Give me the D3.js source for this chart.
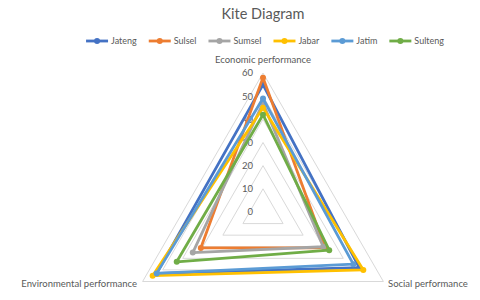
<!DOCTYPE html>
<html>
  <head>
    <script src="https://cdnjs.cloudflare.com/ajax/libs/d3/7.8.5/d3.min.js"></script>
    <style>
      body { margin: 0; background: #fff; font-family: "Lato", "Open Sans", sans-serif; }
    </style>
    <title>Kite Diagram</title>
  </head>
  <body>
    <svg id="chart" width="480" height="300"></svg>
    <script>
      // data
      var axesNames = ["Economic performance", "Social performance", "Environmental performance"];
      var seriesNames = ["Jateng", "Sulsel", "Sumsel", "Jabar", "Jatim", "Sulteng"];
      var colors = ["#4472c4", "#ed7d31", "#a5a5a5", "#ffc000", "#5b9bd5", "#70ad47"];
      var jateng = [55, 48, 53];
      var sulsel = [58, 31, 31];
      var sumsel = [47, 30, 35];
      var jabar = [45, 50, 55];
      var jatim = [49, 45, 53];
      var sulteng = [42, 33, 43];
      var ticks = [0, 10, 20, 30, 40, 50, 60];

      var values = [jateng, sulsel, sumsel, jabar, jatim, sulteng];

      var svg = d3.select("#chart");
      var cx = 263, cy = 212;
      var textColor = "#595959";

      var r = d3.scaleLinear().domain([0, 60]).range([0, 139]);
      var angle = d3.scalePoint().domain(axesNames).range([0, (4 * Math.PI) / 3]);

      var g = svg.append("g").attr("transform", "translate(" + cx + "," + cy + ")");

      // title
      svg.append("text")
        .attr("x", cx).attr("y", 19)
        .attr("text-anchor", "middle")
        .style("font-size", "14.5px")
        .style("fill", textColor)
        .text("Kite Diagram");

      // grid triangles
      var radial = d3.lineRadial()
        .angle(function (d, i) { return angle(axesNames[i]); })
        .radius(function (d) { return r(d); })
        .curve(d3.curveLinearClosed);

      g.selectAll(".grid")
        .data(ticks.slice(1))
        .enter()
        .append("path")
        .attr("d", function (t) { return radial(axesNames.map(function () { return t; })); })
        .attr("fill", "none")
        .attr("stroke", "#d9d9d9")
        .attr("stroke-width", 1);

      // tick labels
      g.selectAll(".tick")
        .data(ticks)
        .enter()
        .append("text")
        .attr("x", -10)
        .attr("y", function (t) { return -r(t); })
        .attr("dy", "0.35em")
        .attr("text-anchor", "end")
        .style("font-size", "9.5px")
        .style("fill", textColor)
        .text(function (t) { return t; });

      // axis labels
      svg.append("text")
        .attr("x", cx).attr("y", 63)
        .attr("text-anchor", "middle")
        .style("font-size", "9.5px").style("fill", textColor)
        .text(axesNames[0]);
      svg.append("text")
        .attr("x", 388).attr("y", 287)
        .attr("text-anchor", "start")
        .style("font-size", "9.5px").style("fill", textColor)
        .text(axesNames[1]);
      svg.append("text")
        .attr("x", 137).attr("y", 287)
        .attr("text-anchor", "end")
        .style("font-size", "9.5px").style("fill", textColor)
        .text(axesNames[2]);

      // series
      function pt(v, i) {
        var a = angle(axesNames[i]);
        return [r(v) * Math.sin(a), -r(v) * Math.cos(a)];
      }

      var series = g.selectAll(".series")
        .data(values)
        .enter()
        .append("g");

      series.append("path")
        .attr("d", function (d) { return radial(d); })
        .attr("fill", "none")
        .attr("stroke", function (d, i) { return colors[i]; })
        .attr("stroke-width", 2.8)
        .attr("stroke-linejoin", "round");

      series.each(function (d, si) {
        d3.select(this).selectAll("circle")
          .data(d)
          .enter()
          .append("circle")
          .attr("cx", function (v, i) { return pt(v, i)[0]; })
          .attr("cy", function (v, i) { return pt(v, i)[1]; })
          .attr("r", 3)
          .attr("fill", colors[si]);
      });

      // legend
      var legend = svg.append("g");
      var x = 0;
      seriesNames.forEach(function (name, i) {
        var item = legend.append("g").attr("transform", "translate(" + x + ",0)");
        item.append("line")
          .attr("x1", 0).attr("x2", 22).attr("y1", 0).attr("y2", 0)
          .attr("stroke", colors[i]).attr("stroke-width", 2.8);
        item.append("circle").attr("cx", 11).attr("cy", 0).attr("r", 3).attr("fill", colors[i]);
        var t = item.append("text")
          .attr("x", 25).attr("dy", "0.35em")
          .style("font-size", "9px").style("fill", textColor)
          .text(name);
        x += 25 + t.node().getComputedTextLength() + 12;
      });
      x -= 12;
      legend.attr("transform", "translate(" + (265 - x / 2) + ",41)");
    </script>
  </body>
</html>
